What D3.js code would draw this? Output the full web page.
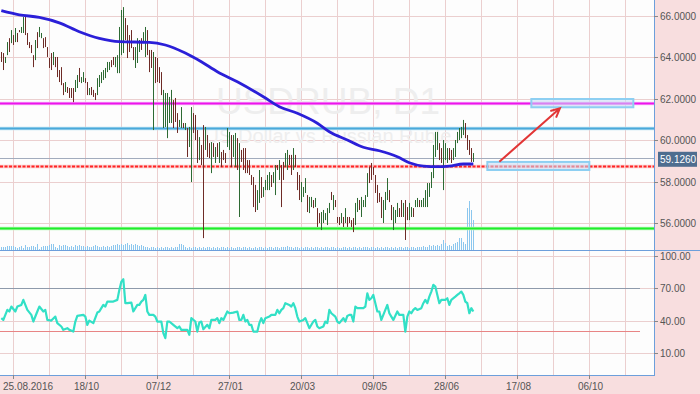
<!DOCTYPE html>
<html lang="en">
<head>
<meta charset="utf-8">
<title>USDRUB, D1</title>
<script src="https://d3js.org/d3.v7.min.js"></script>
<style>
  body { margin: 0; background: #f8dedf; }
  svg { display: block; }
  text { font-family: "Liberation Sans", Arial, sans-serif; }
</style>
</head>
<body>
<script>
// ---- data ----
// daily bars, oldest first (one bar every 2px on screen)
var hi = [
  64.26, 64.21, 64.02, 64.74, 64.93, 65.32, 65.08, 65.42, 65.18, 65.32,
  65.47, 65.95, 65.95, 65.18, 64.74, 64.60, 64.11, 64.84, 65.22, 65.47,
  65.18, 64.93, 64.98, 64.50, 63.97, 64.21, 64.26, 64.02, 64.02, 63.39,
  63.53, 62.76, 62.81, 62.57, 62.52, 62.52, 62.52, 62.91, 63.15, 63.49,
  63.05, 63.29, 63.00, 62.81, 62.52, 62.57, 62.43, 62.28, 63.00, 63.15,
  63.29, 63.39, 63.49, 63.78, 63.78, 63.87, 64.02, 64.02, 64.11, 65.47,
  66.29, 66.43, 65.90, 65.56, 65.08, 65.32, 64.50, 64.50, 64.93, 64.84,
  64.93, 65.22, 65.47, 65.32, 64.36, 64.36, 64.26, 64.02, 63.97, 63.53,
  63.29, 62.43, 62.28, 62.28, 62.09, 62.43, 61.94, 62.04, 61.31, 60.98,
  61.60, 60.83, 60.83, 60.59, 60.64, 61.60, 61.31, 61.22, 60.49, 60.15,
  59.77, 60.73, 60.64, 60.25, 59.86, 59.91, 59.86, 59.67, 59.86, 59.91,
  59.43, 59.53, 59.38, 60.59, 60.40, 60.25, 60.25, 60.35, 60.10,
  59.86, 59.53, 59.62, 59.62, 59.04, 59.04, 58.32, 58.22, 57.84, 57.59,
  58.56, 58.22, 57.74, 58.08, 58.32, 58.46, 58.32, 58.46, 58.80, 58.80,
  59.04, 58.80, 58.95, 59.38, 59.53, 59.29, 59.29, 59.62, 59.29, 58.46,
  58.32, 57.98, 57.74, 58.17, 57.35, 57.26, 57.26, 57.11, 57.21, 56.72,
  56.48, 56.53, 56.63, 56.48, 56.72, 56.97, 57.50, 57.35, 57.11, 56.29,
  56.29, 56.48, 56.29, 56.72, 56.29, 56.29, 56.14, 56.24, 56.97,
  57.21, 57.11, 57.26, 57.11, 57.35, 58.41, 58.70, 58.90, 58.70, 58.32,
  57.84, 57.45, 57.26, 57.11, 57.50, 58.17, 57.59, 56.87, 56.77, 56.63,
  56.97, 56.72, 57.11, 56.97, 57.11, 56.77, 56.97, 56.77, 56.72, 57.11,
  57.21, 57.11, 57.11, 57.21, 57.59, 57.93, 57.93, 58.46, 59.77, 60.40,
  60.40, 59.86, 59.62, 60.01, 59.86, 59.62, 59.62, 59.53, 59.62, 60.01,
  60.40, 60.59, 60.64, 60.98, 60.83, 60.25, 60.01, 59.62, 59.38
];
var lo = [
  63.78, 63.39, 63.73, 64.11, 64.26, 64.69, 64.60, 64.74, 64.74, 65.22,
  65.18, 65.18, 65.08, 64.60, 64.45, 64.21, 63.53, 63.87, 64.45, 64.98,
  64.93, 64.45, 64.50, 64.02, 63.49, 63.39, 63.63, 63.53, 63.05, 62.81,
  62.66, 62.18, 62.33, 62.28, 62.04, 62.04, 61.84, 62.33, 62.52, 62.81,
  62.76, 62.81, 62.76, 62.18, 62.18, 62.18, 62.09, 61.94, 62.18, 62.57,
  62.76, 62.91, 63.00, 63.29, 63.39, 63.53, 63.63, 63.53, 63.24, 63.24,
  64.11, 64.21, 64.84, 63.97, 64.26, 64.45, 63.87, 63.49, 63.73, 64.26,
  64.36, 64.69, 64.02, 64.11, 63.29, 63.49, 60.49, 62.76, 62.81, 62.76,
  62.18, 60.59, 60.64, 60.10, 60.83, 60.83, 60.59, 60.88, 60.35, 60.64,
  60.59, 60.59, 60.49, 59.19, 59.67, 57.98, 60.35, 60.01, 58.90, 59.04,
  58.80, 55.27, 59.53, 59.19, 59.14, 58.41, 59.19, 58.90, 59.19, 58.90,
  58.70, 59.04, 58.90, 59.67, 59.53, 58.70, 59.19, 58.70, 58.56,
  56.29, 58.95, 58.56, 58.41, 58.41, 58.32, 57.84, 56.77, 56.53, 56.63,
  56.97, 57.21, 57.26, 57.59, 57.59, 57.59, 57.74, 57.93, 57.35, 58.56,
  58.08, 56.77, 58.08, 58.70, 58.56, 58.80, 58.32, 58.56, 58.70, 57.59,
  57.11, 57.01, 57.26, 57.45, 56.53, 56.48, 56.77, 56.72, 56.77, 55.81,
  56.00, 55.66, 56.00, 56.14, 55.90, 56.48, 57.11, 56.63, 56.77, 56.00,
  55.90, 56.00, 55.81, 56.00, 55.81, 56.00, 55.81, 55.56, 55.90,
  56.53, 56.63, 56.29, 56.77, 56.77, 57.26, 57.93, 58.08, 58.32, 57.45,
  56.97, 57.01, 56.24, 56.00, 56.63, 57.11, 57.01, 56.14, 55.66, 56.00,
  56.29, 56.29, 56.29, 56.29, 55.18, 56.14, 56.14, 56.29, 56.29, 56.77,
  56.77, 56.77, 56.77, 56.77, 56.77, 56.77, 57.26, 57.69, 58.17, 59.19,
  59.53, 59.04, 58.90, 57.59, 59.04, 58.90, 59.04, 58.90, 59.04, 59.19,
  59.86, 60.01, 60.10, 60.25, 60.10, 59.53, 59.29, 58.95, 58.95
];
// u = bullish (green), d = bearish (red)
var dir = ("dduudududd" + "uudddddudu" + "uddddduddd" + "ddudddduud" + "uudduddduu" +
           "uuuuudduuu" + "uuddddduuu" + "duuddduddd" + "duuuuudddu" + "ududuudddu" +
           "dduddududu" + "ddduuduudu" + "dddddddduu" + "duuuuduudu" + "dduudduddd" +
           "uuuduududd" + "uuuuududdd" + "ududddduud" + "uuuudddddd" + "duuudduuud" +
           "dudduuduud" + "uuuuuuuuud" + "duuudduuuu" + "uuddddu").split("");
// tick volume (hundreds)
var vol = [
  3,3,3,4,4,4,4,3,2,3, 4,2,5,3,3,4,4,3,6,1, 3,4,4,4,5,6,6,3,2,5, 4,5,5,4,3,4,3,5,4,5,
  4,4,3,4,3,3,4,5,4,3, 3,4,3,4,3,4,5,5,6,5, 6,5,6,7,5,6,5,6,5,4, 5,4,3,3,2,3,3,2,3,2,
  3,2,3,3,2,3,2,3,3,6, 6,5,3,2,3,2,3,3,2,3, 2,3,2,3,3,2,3,2,3,2, 3,3,2,3,2,3,2,2,3,3,
  2,3,3,2,3,2,2,3,2,3, 3,2,3,2,3,3,2,3,3,2, 3,3,3,4,3,3,2,3,3,2, 3,2,3,3,2,3,2,3,3,2,
  3,2,3,3,2,3,3,2,3,2, 2,3,3,2,3,2,3,3,2,3, 2,3,3,3,2,3,3,2,3,2, 3,2,3,3,2,3,2,3,2,3,
  3,2,3,3,2,3,3,2,3,3, 3,4,3,3,5,4,5,4,5,4, 6,10,7,4,5,4,6,7,8,12, 12,8,6,42,49,40,30
];

// moving average, read at bar positions
var maIdx = [0, 9, 19, 29, 39, 49, 59, 74, 82, 92, 100, 108, 118, 131, 139, 148, 158, 164, 173, 181, 189, 198, 204, 211, 218, 224, 231, 236];
var maVal = [66.26, 66.06, 65.93, 65.67, 65.24, 64.92, 64.76, 64.73, 64.60, 64.21, 63.79, 63.31, 62.82, 62.10, 61.62, 61.30, 60.82, 60.41, 60.01, 59.66, 59.49, 59.20, 58.91, 58.75, 58.72, 58.75, 58.85, 58.85];

// RSI, read at bar positions
var rsiIdx = [0,1,3,4,5,7,8,10,11,12,13,15,16,18,19,21,22,23,25,27,28,30,31,33,34,36,37,38,41,42,43,44,46,48,49,50,51,52,53,56,58,59,60,61,62,63,65,66,68,69,70,71,72,73,74,76,77,78,80,81,82,83,84,86,88,89,90,93,94,95,97,98,99,100,101,103,104,105,107,108,109,110,111,113,114,116,118,119,120,121,122,123,124,125,126,128,129,130,131,132,134,135,137,138,139,140,141,142,144,145,146,147,148,149,151,152,153,154,156,157,158,159,161,162,163,164,165,167,168,169,171,172,173,174,175,176,177,178,181,182,183,184,185,186,187,188,189,190,192,193,194,195,196,198,199,201,202,203,204,205,206,207,208,210,211,212,213,214,215,216,217,218,219,220,222,223,224,225,227,228,229,230,231,232,233,234,235,236];
var rsiVal = [42.3,40.7,50.0,48.5,53.1,48.5,53.1,54.6,59.3,54.6,50.0,45.4,39.2,48.5,53.1,48.5,50.0,40.7,40.1,43.8,37.7,34.6,31.5,33.0,31.5,29.9,39.2,44.4,45.4,43.8,36.1,40.1,37.7,47.5,48.5,51.6,54.6,53.1,57.7,57.7,59.3,68.5,76.2,78.4,56.2,56.2,56.8,48.5,54.6,54.6,57.7,59.3,63.9,48.5,45.4,45.4,43.8,39.2,39.2,28.4,23.8,39.2,39.2,36.1,33.0,34.6,31.5,31.5,26.9,42.3,39.2,29.9,38.3,39.2,32.1,36.1,33.0,40.7,40.7,42.3,37.7,42.3,40.7,48.5,46.9,47.5,48.5,40.7,40.7,45.4,39.2,40.7,36.1,36.1,29.9,29.9,37.7,42.3,37.7,42.3,43.8,45.4,45.4,50.0,46.9,50.0,51.6,56.2,54.6,53.1,56.2,51.6,43.8,39.2,40.7,42.3,37.7,33.0,39.2,40.7,34.6,33.0,34.6,39.2,37.7,50.0,46.9,43.8,39.2,37.7,42.3,39.2,44.4,45.4,45.4,39.2,53.1,51.6,51.6,53.1,65.4,59.3,60.8,63.9,56.2,48.5,48.5,40.7,50.0,54.6,46.9,43.8,40.7,48.5,45.4,45.4,29.9,43.8,48.5,46.9,50.0,51.6,50.0,51.6,56.2,59.3,56.2,62.3,67.0,73.2,71.6,63.9,56.2,59.3,59.3,60.8,54.6,59.3,62.3,63.9,65.4,67.0,63.9,57.7,56.2,46.9,51.6,48.5];

// axis ticks and labels
var priceTicks = [56, 58, 60, 62, 64, 66];
var rsiTicks = [10, 40, 70, 100];
var dateIdx = [6, 42, 78, 114, 150, 186, 222, 258, 294];
var dateLabels = ["25.08.2016", "18/10", "07/12", "27/01", "20/03", "09/05", "28/06", "17/08", "06/10"];
var lastPrice = 59.126;

// horizontal levels drawn on the chart
var levelMagenta = 61.78, levelBlue = 60.61, levelRed = 58.75, levelGreen = 55.74;
// rectangles [bar from, bar to, price top, price bottom] and trend arrow [bar, price] -> [bar, price]
var boxes = [[243, 294, 58.95, 58.56], [265, 316, 61.99, 61.59]];
var arrow = [[249, 58.96], [279.3, 61.54]];

// ---- layout ----
var w = 700, h = 394;
var right = 654, mainBottom = 250, rsiBottom = 375;
var gridColor = "#ebcfcf", borderColor = "#6d9fdb", labelColor = "#555";

var x = d3.scaleLinear().domain([0, 327]).range([1.33, 655.33]);
var yP = d3.scaleLinear().domain([56, 66]).range([223, 16]);
var yR = d3.scaleLinear().domain([10, 100]).range([353, 256]);
var yV = d3.scaleLinear().domain([0, 50]).range([250, 200]);

var svg = d3.select("body").append("svg").attr("width", w).attr("height", h);

svg.append("rect").attr("width", w).attr("height", h).attr("fill", "#f8dedf");
svg.append("rect").attr("x", 0).attr("y", 0).attr("width", right).attr("height", mainBottom).attr("fill", "#fdfdfd");
svg.append("rect").attr("x", 0).attr("y", mainBottom + 1).attr("width", right).attr("height", rsiBottom - mainBottom - 1).attr("fill", "#fdfdfd");

// grid
var gridIdx = d3.range(6, 313, 18);
svg.selectAll("line.vgrid").data(gridIdx).enter().append("line")
  .attr("x1", function(d) { return Math.floor(x(d)) + 0.5; })
  .attr("x2", function(d) { return Math.floor(x(d)) + 0.5; })
  .attr("y1", 0).attr("y2", rsiBottom)
  .attr("stroke", gridColor);
svg.selectAll("line.pgrid").data(priceTicks).enter().append("line")
  .attr("x1", 0).attr("x2", right)
  .attr("y1", function(d) { return Math.round(yP(d)) + 0.5; })
  .attr("y2", function(d) { return Math.round(yP(d)) + 0.5; })
  .attr("stroke", gridColor);
svg.selectAll("line.rgrid").data(rsiTicks).enter().append("line")
  .attr("x1", 0).attr("x2", right)
  .attr("y1", function(d) { return Math.round(yR(d)) + 0.5; })
  .attr("y2", function(d) { return Math.round(yR(d)) + 0.5; })
  .attr("stroke", gridColor);

// watermark
svg.append("text").attr("x", 328).attr("y", 114).attr("text-anchor", "middle")
  .attr("font-size", "37px").attr("fill", "#eeeeee").text("USDRUB, D1");
svg.append("text").attr("x", 328).attr("y", 143).attr("text-anchor", "middle")
  .attr("font-size", "20px").attr("fill", "#eeeeee").text("US Dollar vs Russian Ruble");

// volumes
svg.selectAll("rect.vol").data(vol).enter().append("rect")
  .attr("x", function(d, i) { return Math.floor(x(i)); })
  .attr("y", function(d) { return yV(d); })
  .attr("width", 1)
  .attr("height", function(d) { return mainBottom - yV(d); })
  .attr("fill", "#8cc7ee");

// level lines
function level(price, halo, core, dash) {
  var y = Math.round(yP(price)) + 0.5;
  svg.append("line").attr("x1", 0).attr("x2", right).attr("y1", y).attr("y2", y)
    .attr("stroke", halo).attr("stroke-width", 3.5);
  var l = svg.append("line").attr("x1", 0).attr("x2", right).attr("y1", y).attr("y2", y)
    .attr("stroke", core).attr("stroke-width", 2);
  if (dash) l.attr("stroke-dasharray", dash);
}
level(levelMagenta, "#f8c2f8", "#ec14ec");
level(levelBlue, "#bce2f4", "#4aa9da");
level(levelGreen, "#b6f7b6", "#1fee2a");
svg.append("line").attr("x1", 0).attr("x2", right)
  .attr("y1", Math.round(yP(lastPrice)) + 0.5).attr("y2", Math.round(yP(lastPrice)) + 0.5)
  .attr("stroke", "#a2acbd");
level(levelRed, "#fbcaca", "#ff2424", "3,1.5");

// bars
svg.selectAll("rect.bar").data(hi).enter().append("rect")
  .attr("x", function(d, i) { return Math.floor(x(i)); })
  .attr("y", function(d) { return yP(d); })
  .attr("width", 1)
  .attr("height", function(d, i) { return Math.max(1, yP(lo[i]) - yP(d)); })
  .attr("fill", function(d, i) { return dir[i] === "u" ? "#2d6a33" : "#6e2b26"; });

// moving average
var maLine = d3.line()
  .x(function(d) { return x(d); })
  .y(function(d, i) { return yP(maVal[i]); })
  .curve(d3.curveMonotoneX);
svg.append("path").attr("d", maLine(maIdx))
  .attr("fill", "none").attr("stroke", "#2b1fd8").attr("stroke-width", 2.8);

// boxes
svg.selectAll("rect.box").data(boxes).enter().append("rect")
  .attr("x", function(d) { return x(d[0]); })
  .attr("y", function(d) { return yP(d[2]); })
  .attr("width", function(d) { return x(d[1]) - x(d[0]); })
  .attr("height", function(d) { return yP(d[3]) - yP(d[2]); })
  .attr("fill", "#c9dcf5").attr("fill-opacity", 0.55)
  .attr("stroke", "#8dcff2").attr("stroke-width", 2);

// arrow
var ax0 = x(arrow[0][0]), ay0 = yP(arrow[0][1]), ax1 = x(arrow[1][0]), ay1 = yP(arrow[1][1]);
var ang = Math.atan2(ay1 - ay0, ax1 - ax0), hl = 10;
svg.append("path")
  .attr("d", "M" + ax0 + "," + ay0 + "L" + ax1 + "," + ay1 +
    "M" + (ax1 - hl * Math.cos(ang - 0.45)) + "," + (ay1 - hl * Math.sin(ang - 0.45)) +
    "L" + ax1 + "," + ay1 +
    "L" + (ax1 - hl * Math.cos(ang + 0.45)) + "," + (ay1 - hl * Math.sin(ang + 0.45)))
  .attr("fill", "none").attr("stroke", "#e23636").attr("stroke-width", 2);

// RSI panel
svg.append("line").attr("x1", 0).attr("x2", 640)
  .attr("y1", Math.round(yR(70)) + 0.5).attr("y2", Math.round(yR(70)) + 0.5).attr("stroke", "#8e9aab");
svg.append("line").attr("x1", 0).attr("x2", 640)
  .attr("y1", Math.round(yR(30)) + 0.5).attr("y2", Math.round(yR(30)) + 0.5).attr("stroke", "#e88585");
var rsiLine = d3.line()
  .x(function(d) { return x(d); })
  .y(function(d, i) { return yR(rsiVal[i]); });
svg.append("path").attr("d", rsiLine(rsiIdx))
  .attr("fill", "none").attr("stroke", "#32e0c6").attr("stroke-width", 2.2)
  .attr("stroke-linejoin", "round");

// borders
svg.append("line").attr("x1", right + 0.5).attr("x2", right + 0.5).attr("y1", 0).attr("y2", rsiBottom + 1).attr("stroke", borderColor);
svg.append("line").attr("x1", 0).attr("x2", w).attr("y1", mainBottom + 0.5).attr("y2", mainBottom + 0.5).attr("stroke", borderColor);
svg.append("line").attr("x1", 0).attr("x2", right + 1).attr("y1", rsiBottom + 0.5).attr("y2", rsiBottom + 0.5).attr("stroke", borderColor);

// right axis
var fmtP = d3.format(".4f"), fmtR = d3.format(".2f");
priceTicks.forEach(function(t) {
  var y = Math.round(yP(t)) + 0.5;
  svg.append("line").attr("x1", right).attr("x2", right + 4).attr("y1", y).attr("y2", y).attr("stroke", "#888");
  svg.append("text").attr("x", 660).attr("y", y + 3.5).attr("font-size", "10px").attr("fill", labelColor).text(fmtP(t));
});
rsiTicks.forEach(function(t) {
  var y = Math.round(yR(t)) + 0.5;
  svg.append("line").attr("x1", right).attr("x2", right + 4).attr("y1", y).attr("y2", y).attr("stroke", "#888");
  svg.append("text").attr("x", 660).attr("y", y + 3.5).attr("font-size", "10px").attr("fill", labelColor).text(fmtR(t));
});
var py = yP(lastPrice);
svg.append("rect").attr("x", 658).attr("y", py - 6.5).attr("width", 39).attr("height", 15).attr("fill", "#4e6d8f");
svg.append("text").attr("x", 660).attr("y", py + 4.5).attr("font-size", "10px").attr("fill", "#fff").text(fmtP(lastPrice));

// bottom axis
dateIdx.forEach(function(d, k) {
  var xx = Math.floor(x(d)) + 0.5;
  svg.append("line").attr("x1", xx).attr("x2", xx).attr("y1", rsiBottom).attr("y2", rsiBottom + 4).attr("stroke", "#888");
  var t = svg.append("text").attr("y", 389.5).attr("font-size", "10px").attr("fill", labelColor).text(dateLabels[k]);
  if (k === 0) t.attr("x", 3);
  else t.attr("x", xx + 1).attr("text-anchor", "middle");
});
</script>
</body>
</html>
